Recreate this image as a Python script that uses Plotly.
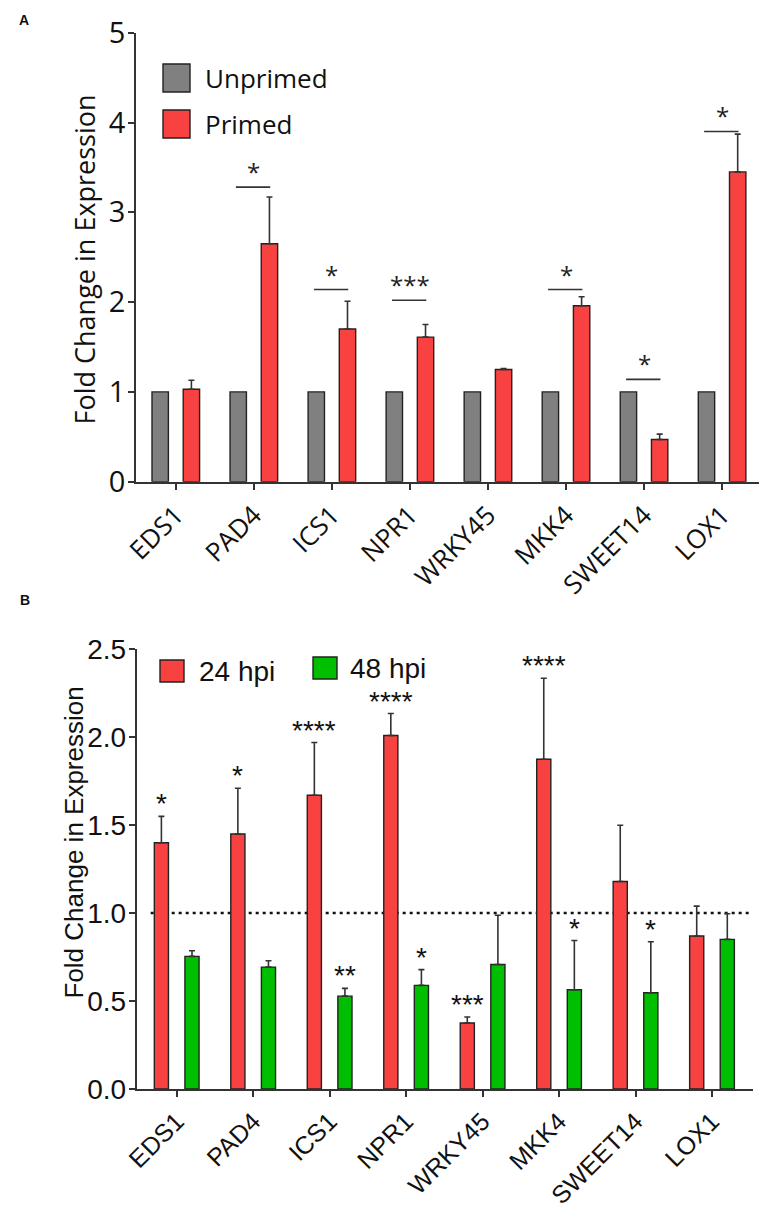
import plotly.graph_objects as go

# ---------------- data ----------------
genes = ["EDS1", "PAD4", "ICS1", "NPR1", "WRKY45", "MKK4", "SWEET14", "LOX1"]

# Panel A
unprimed = [1, 1, 1, 1, 1, 1, 1, 1]
primed = [1.03, 2.65, 1.70, 1.61, 1.25, 1.96, 0.47, 3.45]
primed_err = [0.10, 0.52, 0.31, 0.14, 0.01, 0.10, 0.06, 0.42]
sig_a_labels = ["", "*", "*", "***", "", "*", "*", "*"]
sig_a_line = [None, 3.28, 2.14, 2.02, None, 2.14, 1.14, 3.90]

# Panel B
hpi24 = [1.40, 1.45, 1.67, 2.01, 0.375, 1.875, 1.18, 0.87]
hpi24_err = [0.15, 0.26, 0.30, 0.125, 0.034, 0.46, 0.32, 0.17]
hpi48 = [0.754, 0.693, 0.528, 0.589, 0.708, 0.564, 0.547, 0.851]
hpi48_err = [0.032, 0.036, 0.044, 0.09, 0.28, 0.28, 0.29, 0.145]
sig_24 = ["*", "*", "****", "****", "***", "****", "", ""]
sig_48 = ["", "", "**", "*", "", "*", "*", ""]
ref_level = 1.0

# page body has an 8px margin; figure sized to fill the rest of the window
OFF = 8
W, H = 767 - OFF, 1212 - OFF
GREY = "#808080"
RED = "#F84141"
GREEN = "#00BE00"
EDGE = "#222222"
AX = "#333333"
FA = "Open Sans"
FB = "Liberation Sans, Arial"

def px_x(p):
    return (p - OFF) / W

def px_y(p):
    return 1 - (p - OFF) / H

xs = list(range(len(genes)))

fig = go.Figure()

def add_bar(y, err, color, offset, width, xa, ya, name):
    kw = dict()
    if err is not None:
        kw["error_y"] = dict(type="data", symmetric=False, array=err,
                             arrayminus=[0] * len(err), color=AX,
                             thickness=1.6, width=3)
    fig.add_trace(go.Bar(x=xs, y=y, name=name, marker_color=color,
                         marker_line_color=EDGE, marker_line_width=1.4,
                         width=width, offset=offset, xaxis=xa, yaxis=ya,
                         showlegend=False, **kw))

wa = 0.21
add_bar(unprimed, None, GREY, -0.2 - wa / 2, wa, "x", "y", "Unprimed")
add_bar(primed, primed_err, RED, 0.2 - wa / 2, wa, "x", "y", "Primed")
wb = 0.185
add_bar(hpi24, hpi24_err, RED, -0.2 - wb / 2, wb, "x2", "y2", "24 hpi")
add_bar(hpi48, hpi48_err, GREEN, 0.2 - wb / 2, wb, "x2", "y2", "48 hpi")

shapes = []
annotations = []

# Panel A significance brackets
for i, (lab, ly) in enumerate(zip(sig_a_labels, sig_a_line)):
    if ly is None:
        continue
    shapes.append(dict(type="line", xref="x", yref="y", x0=i - 0.23, x1=i + 0.21,
                       y0=ly, y1=ly, line=dict(color=AX, width=1.6)))
    annotations.append(dict(xref="x", yref="y", x=i, y=ly, text=lab,
                            showarrow=False, xanchor="center", yanchor="bottom",
                            yshift=-3,
                            font=dict(family=FA, size=24, color="#222")))

# Panel B stars
for i, lab in enumerate(sig_24):
    if lab:
        annotations.append(dict(xref="x2", yref="y2", x=i - 0.2,
                                y=hpi24[i] + hpi24_err[i], text=lab,
                                showarrow=False, xanchor="center",
                                yanchor="bottom", yshift=-5,
                                font=dict(family=FB, size=28, color="#111")))
for i, lab in enumerate(sig_48):
    if lab:
        annotations.append(dict(xref="x2", yref="y2", x=i + 0.2,
                                y=hpi48[i] + hpi48_err[i], text=lab,
                                showarrow=False, xanchor="center",
                                yanchor="bottom", yshift=-5,
                                font=dict(family=FB, size=28, color="#111")))

# dotted reference line in B
shapes.append(dict(type="line", xref="x2", yref="y2", x0=-0.34, x1=7.5,
                   y0=ref_level, y1=ref_level, layer="below",
                   line=dict(color="#111", width=2.5, dash="3px,4px")))

# custom legends
def legend_item(x0, y0, x1, y1, color, text, tx, family, size):
    shapes.append(dict(type="rect", xref="paper", yref="paper",
                       x0=px_x(x0), x1=px_x(x1), y0=px_y(y1), y1=px_y(y0),
                       fillcolor=color, line=dict(color=EDGE, width=1.4)))
    annotations.append(dict(xref="paper", yref="paper", x=px_x(tx),
                            y=px_y((y0 + y1) / 2), text=text, showarrow=False,
                            xanchor="left", yanchor="middle",
                            font=dict(family=family, size=size, color="#111")))

legend_item(163, 64, 190, 92, GREY, "Unprimed", 203, FA, 26)
legend_item(163, 110, 190, 138, RED, "Primed", 203, FA, 26)
legend_item(160, 660, 184, 682, RED, "24 hpi", 197, FB, 28)
legend_item(313, 657, 337, 679, GREEN, "48 hpi", 348, FB, 28)

# panel labels
for lab, lx, ly in [("A", 24, 20.5), ("B", 25, 600)]:
    annotations.append(dict(xref="paper", yref="paper", x=px_x(lx), y=px_y(ly),
                            text="<b>%s</b>" % lab, showarrow=False,
                            xanchor="center", yanchor="middle",
                            font=dict(family=FB, size=14, color="#111")))

# axis titles
annotations.append(dict(xref="paper", yref="paper", x=px_x(84), y=px_y(259.5),
                        text="Fold Change in Expression", textangle=-90,
                        showarrow=False, xanchor="center", yanchor="middle",
                        font=dict(family=FA, size=27, color="#111")))
annotations.append(dict(xref="paper", yref="paper", x=px_x(74), y=px_y(842.5),
                        text="Fold Change in Expression", textangle=-90,
                        showarrow=False, xanchor="center", yanchor="middle",
                        font=dict(family=FB, size=26, color="#111")))

axis_common = dict(showline=True, linecolor=AX, linewidth=1.8, ticks="outside",
                   ticklen=6, tickwidth=1.6, tickcolor=AX, showgrid=False,
                   zeroline=False, automargin=False)

fig.update_layout(
    width=W, height=H, autosize=False,
    margin=dict(l=0, r=0, t=0, b=0, pad=0, autoexpand=False),
    paper_bgcolor="white", plot_bgcolor="white",
    barmode="overlay",
    xaxis=dict(domain=[px_x(136), min(1, px_x(765))], range=[-0.51, 7.55],
               tickvals=xs, ticktext=genes, tickangle=-45, anchor="y",
               tickfont=dict(family=FA, size=26, color="#111"), **axis_common),
    yaxis=dict(domain=[px_y(481.7), px_y(32.7)], range=[0, 5], tickvals=[0, 1, 2, 3, 4, 5],
               anchor="x", tickfont=dict(family=FA, size=29, color="#111"),
               ticklabelstandoff=-3, **axis_common),
    xaxis2=dict(domain=[px_x(136.7), px_x(753.3)], range=[-0.523, 7.54],
                tickvals=xs, ticktext=genes, tickangle=-45, anchor="y2",
                tickfont=dict(family=FB, size=25, color="#111"), **axis_common),
    yaxis2=dict(domain=[px_y(1089), px_y(649.3)], range=[0, 2.5],
                tickvals=[0, 0.5, 1, 1.5, 2, 2.5], tickformat=".1f", anchor="x2",
                tickfont=dict(family=FB, size=28, color="#111"),
                ticklabelstandoff=-3, **axis_common),
    shapes=shapes,
    annotations=annotations,
)

fig.write_html("out.html")
